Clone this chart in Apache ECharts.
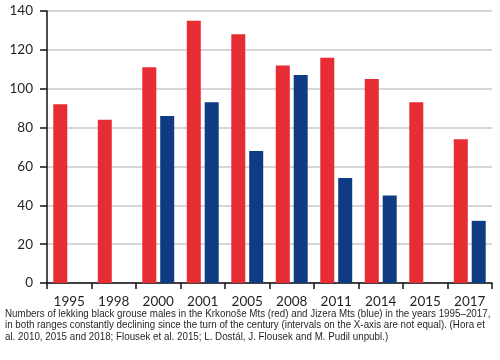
<!DOCTYPE html>
<html><head><meta charset="utf-8">
<script src="https://cdn.jsdelivr.net/npm/echarts@6/dist/echarts.min.js"></script>
<style>html,body{margin:0;padding:0;background:#fff}#c{width:500px;height:360px}</style>
</head><body><div id="c"></div>
<script>
const years = ['1995','1998','2000','2001','2005','2008','2011','2014','2015','2017'];
const krkonose = [92, 84, 111, 135, 128, 112, 116, 105, 93, 74];
const jizera = [null, null, 86, 93, 68, 107, 54, 45, null, 32];
const yTicks = { min: 0, max: 140, interval: 20 };
const captionLines = [
  'Numbers of lekking black grouse males in the Krkonoše Mts (red) and Jizera Mts (blue) in the years 1995–2017,',
  'in both ranges constantly declining since the turn of the century (intervals on the X-axis are not equal). (Hora et',
  'al. 2010, 2015 and 2018; Flousek et al. 2015; L. Dostál, J. Flousek and M. Pudil unpubl.)'
];
const chart = echarts.init(document.getElementById('c'), null, {renderer:'canvas'});
const capFont = '"Liberation Sans", Arial, sans-serif';
chart.setOption({
  animation: false,
  grid: { left: 47, right: 8, top: 11, bottom: 77, containLabel: false },
  xAxis: {
    type: 'category', data: years,
    axisLine: { lineStyle: { color: '#111', width: 1.5 } },
    axisTick: { show: true, length: 6, lineStyle: { color: '#111', width: 1.5 } },
    axisLabel: { color: '#231f20', fontSize: 13.5, fontFamily: 'Lato, "Open Sans", sans-serif', margin: 12 }
  },
  yAxis: {
    type: 'value', min: yTicks.min, max: yTicks.max, interval: yTicks.interval,
    axisLine: { show: true, lineStyle: { color: '#111', width: 1.5 } },
    axisTick: { show: true, length: 7, lineStyle: { color: '#111', width: 1.5 } },
    axisLabel: { color: '#231f20', fontSize: 13.5, fontFamily: 'Lato, "Open Sans", sans-serif', margin: 14 },
    splitLine: { lineStyle: { color: '#c8c8c8', width: 1.5 } }
  },
  series: [
    { type: 'bar', data: krkonose, barWidth: 14, barGap: '28%', itemStyle: { color: '#e72c33' } },
    { type: 'bar', data: jizera, barWidth: 14, itemStyle: { color: '#0f3b82' } }
  ],
  graphic: captionLines.map((t, i) => ({
    type: 'text', x: 5, y: 308 + i * 11.5, scaleX: 0.89,
    style: { text: t, font: '11px ' + capFont, fill: '#231f20', textVerticalAlign: 'top' }
  }))
});
</script></body></html>
